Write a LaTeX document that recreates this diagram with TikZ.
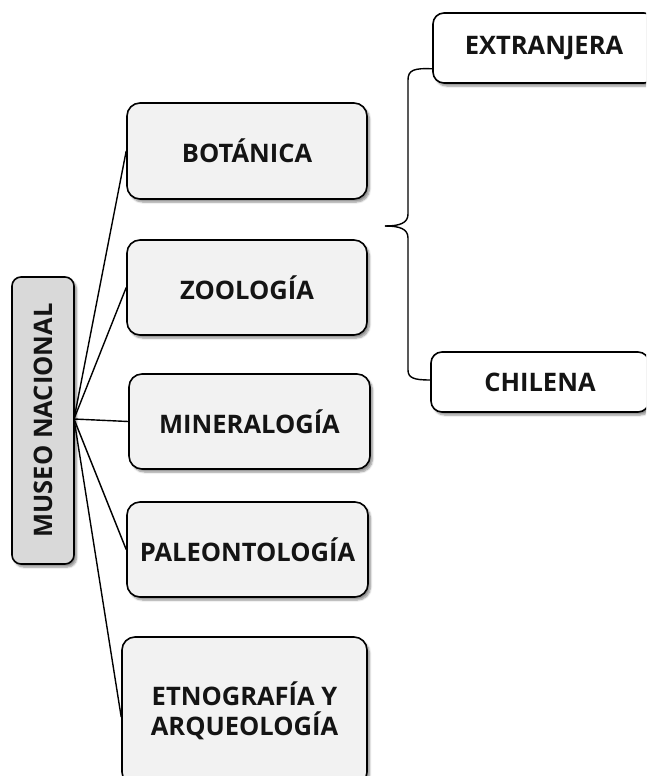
\documentclass[tikz,border=0pt]{standalone}
\usepackage{fontspec}
\setmainfont{Open Sans}
\usetikzlibrary{shadows.blur,calc}
\definecolor{boxfill}{HTML}{F2F2F2}
\definecolor{mainfill}{HTML}{D9D9D9}
\definecolor{txt}{HTML}{141414}
\tikzset{
  shad/.style={blur shadow={shadow xshift=2.5pt,shadow yshift=-3pt,shadow blur steps=6,shadow blur radius=2pt,shadow opacity=45}},
  catbox/.style={draw=black,line width=1.6pt,rounded corners=13pt,fill=boxfill,shad,
    inner sep=0pt,align=center,text=txt,font=\bfseries\fontsize{25.5}{30}\selectfont},
  subbox/.style={catbox,fill=white,rounded corners=11pt},
  mainbox/.style={catbox,fill=mainfill,rounded corners=9pt},
  conn/.style={line width=1.4pt,black}
}
\begin{document}
\begin{tikzpicture}[x=1pt,y=-1pt]
\useasboundingbox (0,0) rectangle (646,776);
\clip (0,0) rectangle (646,776);
\node[mainbox,rotate=90,minimum width=287pt,minimum height=62pt] (museo) at (43,420.5) {MUSEO NACIONAL};
\node[catbox,minimum width=240pt,minimum height=96pt] (bot) at (247,151) {BOTÁNICA};
\node[catbox,minimum width=240pt,minimum height=95pt] (zoo) at (247,287.5) {ZOOLOGÍA};
\node[catbox,minimum width=241pt,minimum height=95pt] (min) at (249.5,421.5) {MINERALOGÍA};
\node[catbox,minimum width=241pt,minimum height=95pt] (pal) at (247.5,549.5) {PALEONTOLOGÍA};
\node[catbox,minimum width=245pt,minimum height=148pt] (etn) at (244.5,711) {ETNOGRAFÍA Y\\ARQUEOLOGÍA};
\node[subbox,minimum width=222pt,minimum height=70pt] (ext) at (544,48) {EXTRANJERA};
\node[subbox,minimum width=218pt,minimum height=60pt] (chi) at (540,382) {CHILENA};
\coordinate (hub) at (74,419);
\coordinate (tip) at (385,226);
\draw[conn] (hub) -- (bot.west);
\draw[conn] (hub) -- (zoo.west);
\draw[conn] (hub) -- (min.west);
\draw[conn] (hub) -- (pal.west);
\draw[conn] (hub) -- ($(etn.west)+(0,6)$);
\coordinate (e1) at ($(ext.south west)+(0,-15)$);
\coordinate (c1) at ($(chi.west)+(0,-2)$);
\draw[conn] (e1) .. controls (414,68) and (408,70) .. (408,80) -- (408,214)
  .. controls (408,223) and (400,226) .. (tip);
\draw[conn] (tip) .. controls (400,226) and (408,229) .. (408,238) -- (408,370)
  .. controls (408,378) and (414,380) .. (c1);
\end{tikzpicture}
\end{document}
